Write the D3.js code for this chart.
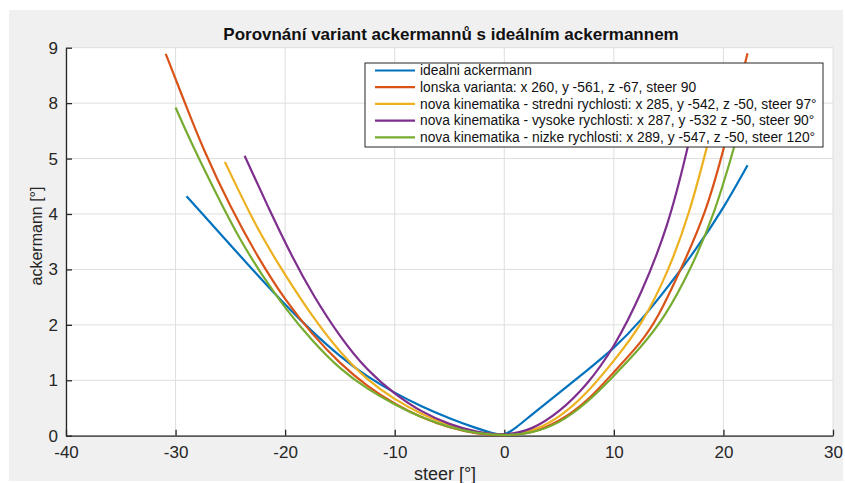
<!DOCTYPE html>
<html>
<head>
<meta charset="utf-8">
<script src="https://cdn.jsdelivr.net/npm/d3@7"></script>
<style>
  body { margin: 0; background: #fff; }
  svg text { font-family: "Liberation Sans", Arial, sans-serif; }
</style>
</head>
<body>
<svg id="chart" width="845" height="483"></svg>
<script>
// chart text
const chartTitle = 'Porovnání variant ackermannů s ideálním ackermannem';
const xLabel = 'steer [°]';
const yLabel = 'ackermann [°]';
const xTicks = [-40, -30, -20, -10, 0, 10, 20, 30];
const yTickLabels = ['0', '1', '2', '3', '4', '5', '8', '9'];

const seriesNames = [
    'idealni ackermann',
    'lonska varianta: x 260, y -561, z -67, steer 90',
    'nova kinematika - stredni rychlosti: x 285, y -542, z -50, steer 97°',
    'nova kinematika - vysoke rychlosti: x 287, y -532 z -50, steer 90°',
    'nova kinematika - nizke rychlosti: x 289, y -547, z -50, steer 120°'
];
const seriesColors = ['#0072BD', '#D95319', '#EDB120', '#7E2F8E', '#77AC30'];

// values (y in axis tick positions)
const idealSteer = [-29, -27.5, -25, -22.5, -20, -17.5, -15, -12.5, -10, -7.5, -5, -2.5, -1, 0, 1, 2.5, 5, 7.5, 10, 12.5, 15, 17.5, 20, 22.2];
const idealVal = [4.32, 3.99, 3.44, 2.89, 2.36, 1.87, 1.43, 1.06, 0.77, 0.52, 0.31, 0.13, 0.04, 0, 0.13, 0.38, 0.77, 1.17, 1.57, 2.08, 2.7, 3.36, 4.1, 4.88];

const lonskaSteer = [-30.9, -29, -27.5, -25, -22.5, -20, -17.5, -15, -12.5, -10, -7.5, -5, -2.5, 0, 2.5, 5, 7.5, 10, 12.5, 14, 16, 18.4, 20.1, 22.2];
const lonskaVal = [6.89, 5.93, 5.18, 4.12, 3.22, 2.44, 1.82, 1.3, 0.89, 0.57, 0.32, 0.14, 0.03, 0, 0.04, 0.25, 0.6, 1.15, 1.68, 2.12, 2.95, 4.01, 5.21, 6.9];

const stredniSteer = [-25.5, -22.5, -20, -17.5, -15, -12.5, -10, -7.5, -5, -2.5, 0, 2.5, 5, 7.5, 10, 12.5, 15, 16.9, 18.5, 20];
const stredniVal = [4.94, 3.7, 2.9, 2.14, 1.5, 1.0, 0.65, 0.38, 0.18, 0.05, 0, 0.07, 0.32, 0.75, 1.35, 1.98, 2.97, 4.01, 5.2, 6.4];

const vysokeSteer = [-23.7, -21.5, -19.3, -17.5, -15, -12.5, -10, -7.5, -5, -2.5, 0, 2.5, 5, 7.5, 10, 12.5, 15, 16.7, 18];
const vysokeVal = [5.05, 4.1, 3.2, 2.55, 1.78, 1.17, 0.75, 0.42, 0.2, 0.06, 0, 0.1, 0.42, 0.9, 1.58, 2.55, 3.8, 5.15, 6.3];

const nizkeSteer = [-30, -28.5, -26, -24.2, -22, -20, -17.5, -15, -12.5, -10, -7.5, -5, -2.5, 0, 2.5, 5, 7.5, 10, 12.5, 14.6, 17, 19.2, 21, 22.5];
const nizkeVal = [5.92, 5.25, 4.25, 3.56, 2.86, 2.3, 1.7, 1.2, 0.84, 0.56, 0.32, 0.15, 0.04, 0, 0.04, 0.22, 0.58, 1.08, 1.6, 2.12, 2.99, 4.01, 5.21, 6.3];

const series = [
    d3.zip(idealSteer, idealVal),
    d3.zip(lonskaSteer, lonskaVal),
    d3.zip(stredniSteer, stredniVal),
    d3.zip(vysokeSteer, vysokeVal),
    d3.zip(nizkeSteer, nizkeVal)
];

const svg = d3.select('#chart');
const plotLeft = 66, plotRight = 833, plotTop = 47.7, plotBottom = 435.7;

// figure background
svg.append('rect')
    .attr('x', 9).attr('y', 10)
    .attr('width', 834).attr('height', 471)
    .attr('fill', '#f0f0f0');

svg.append('rect')
    .attr('x', plotLeft).attr('y', plotTop)
    .attr('width', plotRight - plotLeft).attr('height', plotBottom - plotTop)
    .attr('fill', '#fff');

const x = d3.scaleLinear().domain([-40, 30]).range([plotLeft, plotRight]);
const y = d3.scaleLinear().domain([0, 7]).range([plotBottom, plotTop]);
const yTicks = d3.range(yTickLabels.length);

// grid
svg.append('g')
    .selectAll('line')
    .data(xTicks)
    .join('line')
    .attr('x1', d => x(d)).attr('x2', d => x(d))
    .attr('y1', plotTop).attr('y2', plotBottom)
    .attr('stroke', '#dedede');
svg.append('g')
    .selectAll('line')
    .data(yTicks)
    .join('line')
    .attr('x1', plotLeft).attr('x2', plotRight)
    .attr('y1', d => y(d)).attr('y2', d => y(d))
    .attr('stroke', '#dedede');

// axes
const xAxis = d3.axisBottom(x)
    .tickValues(xTicks)
    .tickFormat(d => String(d))
    .tickSizeInner(-6)
    .tickSizeOuter(0)
    .tickPadding(10);
const yAxis = d3.axisLeft(y)
    .tickValues(yTicks)
    .tickFormat(i => yTickLabels[i])
    .tickSizeInner(-6)
    .tickSizeOuter(0)
    .tickPadding(8);

const gx = svg.append('g').attr('transform', `translate(0,${plotBottom})`).call(xAxis);
const gy = svg.append('g').attr('transform', `translate(${plotLeft},0)`).call(yAxis);
[gx, gy].forEach(g => {
    g.select('.domain').attr('stroke', '#262626').attr('stroke-width', 1.3);
    g.selectAll('.tick line').attr('stroke', '#262626').attr('stroke-width', 1.3);
    g.selectAll('.tick text')
        .attr('fill', '#262626')
        .style('font-size', '17px')
        .style('font-family', '"Liberation Sans", Arial, sans-serif');
});

// curves
const line = d3.line()
    .x(d => x(d[0]))
    .y(d => y(d[1]))
    .curve(d3.curveBasis);

svg.append('g')
    .selectAll('path')
    .data(series)
    .join('path')
    .attr('d', line)
    .attr('fill', 'none')
    .attr('stroke', (d, i) => seriesColors[i])
    .attr('stroke-width', 2.2)
    .attr('stroke-linejoin', 'round');

// title and labels
svg.append('text')
    .attr('x', 451).attr('y', 40)
    .attr('text-anchor', 'middle')
    .style('font-size', '17px')
    .style('font-weight', 'bold')
    .attr('fill', '#111')
    .text(chartTitle);

svg.append('text')
    .attr('x', 445).attr('y', 480)
    .attr('text-anchor', 'middle')
    .style('font-size', '18px')
    .attr('fill', '#262626')
    .text(xLabel);

svg.append('text')
    .attr('transform', 'translate(42,236) rotate(-90)')
    .attr('text-anchor', 'middle')
    .style('font-size', '16px')
    .attr('fill', '#262626')
    .text(yLabel);

// legend
const legend = svg.append('g').attr('transform', 'translate(365,63)');
legend.append('rect')
    .attr('width', 458).attr('height', 84)
    .attr('fill', '#fff')
    .attr('stroke', '#262626')
    .attr('stroke-width', 1);
const rows = legend.selectAll('g.row')
    .data(seriesNames)
    .join('g')
    .attr('class', 'row')
    .attr('transform', (d, i) => `translate(0,${7.5 + i * 16.7})`);
rows.append('line')
    .attr('x1', 10).attr('x2', 50)
    .attr('stroke', (d, i) => seriesColors[i])
    .attr('stroke-width', 2.2);
rows.append('text')
    .attr('x', 55).attr('dy', '0.35em')
    .style('font-size', '13.8px')
    .attr('fill', '#111')
    .text(d => d);
</script>
</body>
</html>
